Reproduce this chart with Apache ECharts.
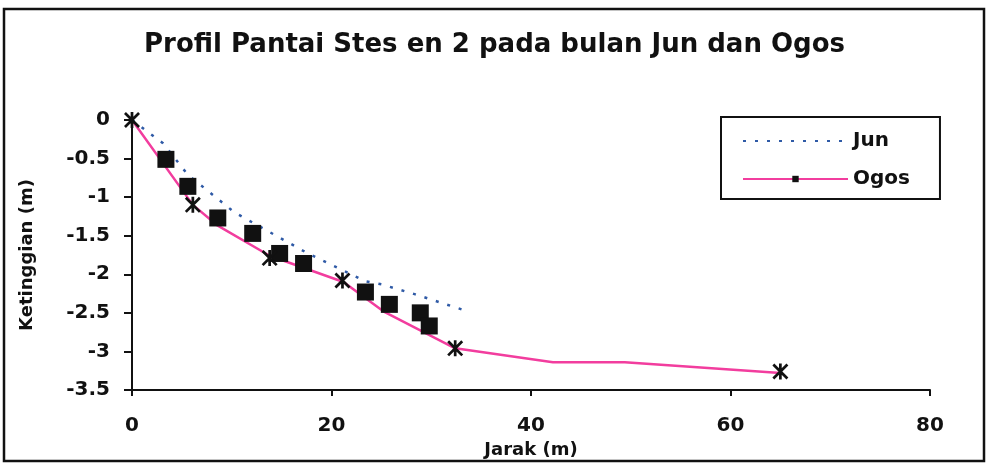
<!DOCTYPE html>
<html>
<head>
<meta charset="utf-8">
<script src="https://cdn.jsdelivr.net/npm/echarts@6/dist/echarts.min.js"></script>
<style>
  html, body { margin: 0; padding: 0; background: #fff; }
  #chart { width: 989px; height: 470px; }
</style>
</head>
<body>
<div id="chart"></div>
<script>
// Beach profile, station 2: distance from shore (m) vs elevation (m)
const titleText = 'Profil Pantai Stes en 2 pada bulan Jun dan Ogos';
const xAxisTitle = 'Jarak (m)';
const yAxisTitle = 'Ketinggian (m)';
const seriesNames = ['Jun', 'Ogos'];

// June survey profile (dotted line)
const junProfile = [
  [0, 0], [3.1, -0.3], [5.6, -0.71], [10.3, -1.2], [17.5, -1.72],
  [23.4, -2.09], [25, -2.13], [28.4, -2.26], [33.4, -2.47]
];

// August survey profile (solid line)
const ogosProfile = [
  [0, 0], [6.1, -1.1], [8.6, -1.37], [13.8, -1.76], [21.2, -2.1],
  [25.2, -2.48], [32.4, -2.96], [42.2, -3.14], [49.4, -3.14], [65, -3.28]
];

// August measured stations (square markers)
const ogosStations = [
  [3.4, -0.51], [5.6, -0.86], [8.6, -1.27], [12.1, -1.47], [14.8, -1.73],
  [17.2, -1.86], [23.4, -2.23], [25.8, -2.39], [28.9, -2.5], [29.8, -2.67]
];

// Benchmark points along the profile (star markers)
const benchmarks = [
  [0, 0], [6.1, -1.1], [13.8, -1.79], [21.1, -2.08], [32.4, -2.96], [65, -3.26]
];

const xTicks = { min: 0, max: 80, interval: 20 };
const yTicks = { min: -3.5, max: 0, interval: 0.5 };

const FONT = 'DejaVu Sans';
// bold asterisk: vertical bar plus two diagonals
const starPath = 'path://M8.3,0h3.4v20h-3.4z M0,2.4L2.4,0L20,17.6L17.6,20Z M17.6,0L20,2.4L2.4,20L0,17.6Z';

const chart = echarts.init(document.getElementById('chart'));
chart.setOption({
  animation: false,
  backgroundColor: '#fff',
  title: {
    text: titleText,
    left: 'center',
    top: 27,
    textStyle: { fontFamily: FONT, fontSize: 26, fontWeight: 'bold', color: '#111' }
  },
  legend: {
    orient: 'vertical',
    left: 721,
    top: 117,
    padding: [14, 30, 10, 21],
    itemGap: 18,
    itemWidth: 105,
    itemHeight: 8,
    borderColor: '#111',
    borderWidth: 2,
    textStyle: { fontFamily: FONT, fontSize: 20, fontWeight: 'bold', color: '#111' },
    data: [
      { name: seriesNames[0], itemStyle: { opacity: 0 } },
      { name: seriesNames[1] }
    ]
  },
  grid: { left: 132, right: 59, top: 120, bottom: 80, containLabel: false },
  xAxis: {
    type: 'value',
    min: xTicks.min, max: xTicks.max, interval: xTicks.interval,
    name: xAxisTitle,
    nameLocation: 'middle',
    nameGap: 47,
    nameTextStyle: { fontFamily: FONT, fontSize: 18, fontWeight: 'bold', color: '#111' },
    axisLine: { onZero: false, lineStyle: { color: '#111', width: 2 } },
    axisTick: { length: 6, lineStyle: { color: '#111', width: 2 } },
    axisLabel: { margin: 26, fontFamily: FONT, fontSize: 20, fontWeight: 'bold', color: '#111' },
    splitLine: { show: false }
  },
  yAxis: {
    type: 'value',
    min: yTicks.min, max: yTicks.max, interval: yTicks.interval,
    name: yAxisTitle,
    nameLocation: 'middle',
    nameGap: 96,
    nameRotate: 90,
    nameTextStyle: { fontFamily: FONT, fontSize: 18, fontWeight: 'bold', color: '#111' },
    axisLine: { onZero: false, lineStyle: { color: '#111', width: 2 } },
    axisTick: { length: 8, lineStyle: { color: '#111', width: 2 } },
    axisLabel: { margin: 22, fontFamily: FONT, fontSize: 20, fontWeight: 'bold', color: '#111' },
    splitLine: { show: false }
  },
  series: [
    {
      name: seriesNames[0],
      type: 'line',
      data: junProfile,
      symbol: 'none',
      showSymbol: false,
      itemStyle: { color: '#2f5aa6' },
      lineStyle: { color: '#2f5aa6', width: 2.5, type: [3, 9] },
      z: 2
    },
    {
      name: seriesNames[1],
      type: 'line',
      data: ogosProfile,
      symbol: 'rect',
      showSymbol: false,
      itemStyle: { color: '#111' },
      lineStyle: { color: '#f23d9e', width: 2.5 },
      z: 3
    },
    {
      name: 'stesen',
      type: 'scatter',
      data: ogosStations,
      symbol: 'rect',
      symbolSize: 17,
      itemStyle: { color: '#111', opacity: 1 },
      z: 4
    },
    {
      name: 'penanda',
      type: 'scatter',
      data: benchmarks,
      symbol: starPath,
      symbolSize: 16,
      itemStyle: { color: '#111', opacity: 1 },
      z: 5
    }
  ],
  graphic: [
    {
      type: 'rect',
      shape: { x: 4, y: 9, width: 980, height: 452 },
      style: { fill: 'none', stroke: '#111', lineWidth: 2.5 },
      z: 100,
      silent: true
    }
  ]
});
</script>
</body>
</html>
